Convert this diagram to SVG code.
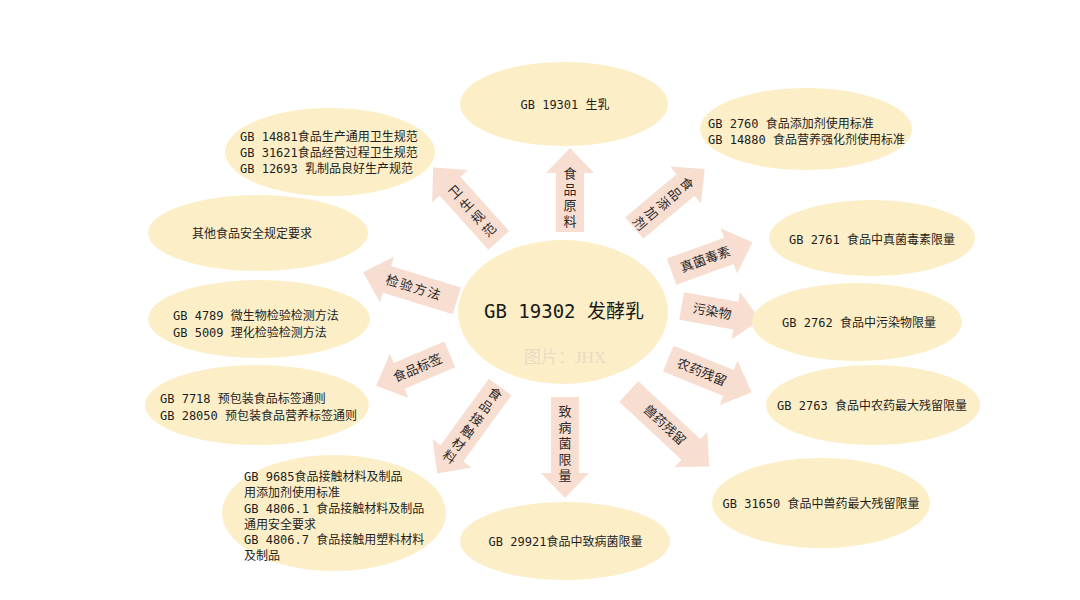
<svg xmlns="http://www.w3.org/2000/svg" width="1080" height="600" viewBox="0 0 1080 600">
<style>
.bg{fill:#ffffff}
.node{fill:#fcefc8}
.arr{fill:#f8ded1}
.t{font-family:"DejaVu Sans Mono","Noto Sans CJK SC",monospace;font-size:12px;fill:#1e1e1e}
.tm{text-anchor:middle}
.ctr{font-family:"DejaVu Sans Mono","Noto Sans CJK SC",monospace;font-size:19px;fill:#1a1a1a;text-anchor:middle}
.wm{font-family:"Liberation Serif","Noto Sans CJK SC",serif;font-size:17px;fill:#e9dcc4;text-anchor:middle}
.a{font-family:"Noto Sans CJK SC",sans-serif;font-size:13px;fill:#2a2a2a;text-anchor:middle}
.v{writing-mode:vertical-rl;text-orientation:upright}
</style>
<rect class="bg" x="0" y="0" width="1080" height="600"/>

<g id="connectors">
  <g id="arrow-weisheng" transform="translate(466,204) rotate(-42)">
    <path class="arr" d="M-14,49 V-24 H-24 L0,-49 L24,-24 H14 V49 Z"/>
    <text class="a v" x="0" y="11" letter-spacing="4">卫生规范</text>
  </g>
  <g id="arrow-yuanliao" transform="translate(570,190)">
    <path class="arr" d="M-14,42 V-17 H-24 L0,-42 L24,-17 H14 V42 Z"/>
    <text class="a v" x="0" y="8.5" letter-spacing="3">食品原料</text>
  </g>
  <g id="arrow-tianjiaji" transform="translate(669.5,198.5) rotate(50)">
    <path class="arr" d="M-14,46 V-21 H-24 L0,-46 L24,-21 H14 V46 Z"/>
    <text class="a v" x="0" y="9" letter-spacing="2.3">食品添加剂</text>
  </g>
  <g id="arrow-zhenjun" transform="translate(712,257) rotate(-20)">
    <path class="arr" d="M-43,-14 H18 V-24 L43,0 L18,24 V14 H-43 Z"/>
    <text class="a" x="-7" y="4.5">真菌毒素</text>
  </g>
  <g id="arrow-wuran" transform="translate(721,313) rotate(10)">
    <path class="arr" d="M-40,-14 H15 V-24 L40,0 L15,24 V14 H-40 Z"/>
    <text class="a" x="-9" y="4.5">污染物</text>
  </g>
  <g id="arrow-nongyao" transform="translate(710,375.5) rotate(22)">
    <path class="arr" d="M-45,-14 H20 V-24 L45,0 L20,24 V14 H-45 Z"/>
    <text class="a" x="-9" y="4.5">农药残留</text>
  </g>
  <g id="arrow-shouyao" transform="translate(669,429) rotate(43)">
    <path class="arr" d="M-55,-14 H30 V-24 L55,0 L30,24 V14 H-55 Z"/>
    <text class="a" x="-6" y="4.5">兽药残留</text>
  </g>
  <g id="arrow-zhibingjun" transform="translate(565,447.5)">
    <path class="arr" d="M-14,-50.5 V25.5 H-24 L0,50.5 L24,25.5 H14 V-50.5 Z"/>
    <text class="a v" x="0" y="-2.5" letter-spacing="3">致病菌限量</text>
  </g>
  <g id="arrow-jiechu" transform="translate(468.7,430.3) rotate(36)">
    <path class="arr" d="M-14,-53.5 V28.5 H-24 L0,53.5 L24,28.5 H14 V-53.5 Z"/>
    <text class="a v" x="0" y="-5" letter-spacing="2.5">食品接触材料</text>
  </g>
  <g id="arrow-biaoqian" transform="translate(413,370) rotate(-23)">
    <path class="arr" d="M40,-14 H-15 V-24 L-40,0 L-15,24 V14 H40 Z"/>
    <text class="a" x="5" y="4.5">食品标签</text>
  </g>
  <g id="arrow-jianyan" transform="translate(410,286.5) rotate(17)">
    <path class="arr" d="M49,-14 H-24 V-24 L-49,0 L-24,24 V14 H49 Z"/>
    <text class="a" x="4" y="4.5" letter-spacing="1.5">检验方法</text>
  </g>
</g>

<g id="n-center">
  <ellipse class="node" cx="563" cy="312" rx="105" ry="72"/>
  <text class="ctr" x="564" y="317.5">GB 19302 发酵乳</text>
  <text class="wm" x="565" y="363">图片：JHX</text>
</g>
<g id="n-gb19301">
  <ellipse class="node" cx="564" cy="104" rx="104" ry="42"/>
  <text class="t tm" x="565" y="108.5">GB 19301 生乳</text>
</g>
<g id="n-hygiene">
  <ellipse class="node" cx="330" cy="152" rx="105" ry="44"/>
  <text class="t" x="240" y="140.5">GB 14881食品生产通用卫生规范</text>
  <text class="t" x="240" y="156.5">GB 31621食品经营过程卫生规范</text>
  <text class="t" x="240" y="172.5">GB 12693 乳制品良好生产规范</text>
</g>
<g id="n-other">
  <ellipse class="node" cx="258" cy="233" rx="110" ry="38"/>
  <text class="t tm" x="252" y="237.5">其他食品安全规定要求</text>
</g>
<g id="n-test">
  <ellipse class="node" cx="259" cy="319" rx="111" ry="39"/>
  <text class="t" x="173" y="319.5">GB 4789 微生物检验检测方法</text>
  <text class="t" x="173" y="336.5">GB 5009 理化检验检测方法</text>
</g>
<g id="n-label">
  <ellipse class="node" cx="257" cy="405" rx="112" ry="40"/>
  <text class="t" x="160" y="402.5">GB 7718 预包装食品标签通则</text>
  <text class="t" x="160" y="420">GB 28050 预包装食品营养标签通则</text>
</g>
<g id="n-contact">
  <ellipse class="node" cx="334" cy="513" rx="112" ry="58"/>
  <text class="t" x="244" y="481">GB 9685食品接触材料及制品</text>
  <text class="t" x="244" y="497">用添加剂使用标准</text>
  <text class="t" x="244" y="513">GB 4806.1 食品接触材料及制品</text>
  <text class="t" x="244" y="528.5">通用安全要求</text>
  <text class="t" x="244" y="544">GB 4806.7 食品接触用塑料材料</text>
  <text class="t" x="244" y="560">及制品</text>
</g>
<g id="n-pathogen">
  <ellipse class="node" cx="565" cy="541" rx="105" ry="39"/>
  <text class="t tm" x="565.5" y="545.5">GB 29921食品中致病菌限量</text>
</g>
<g id="n-additive">
  <ellipse class="node" cx="806" cy="129" rx="106" ry="41"/>
  <text class="t" x="708" y="127.5">GB 2760 食品添加剂使用标准</text>
  <text class="t" x="708" y="143.5">GB 14880 食品营养强化剂使用标准</text>
</g>
<g id="n-mycotoxin">
  <ellipse class="node" cx="872" cy="238" rx="103" ry="38"/>
  <text class="t tm" x="872" y="243.5">GB 2761 食品中真菌毒素限量</text>
</g>
<g id="n-contaminant">
  <ellipse class="node" cx="857" cy="322" rx="105" ry="39"/>
  <text class="t tm" x="859" y="326.5">GB 2762 食品中污染物限量</text>
</g>
<g id="n-pesticide">
  <ellipse class="node" cx="873" cy="405" rx="107" ry="40"/>
  <text class="t tm" x="872" y="409.5">GB 2763 食品中农药最大残留限量</text>
</g>
<g id="n-vetdrug">
  <ellipse class="node" cx="821" cy="503" rx="109" ry="45"/>
  <text class="t tm" x="821" y="507.5">GB 31650 食品中兽药最大残留限量</text>
</g>
</svg>
